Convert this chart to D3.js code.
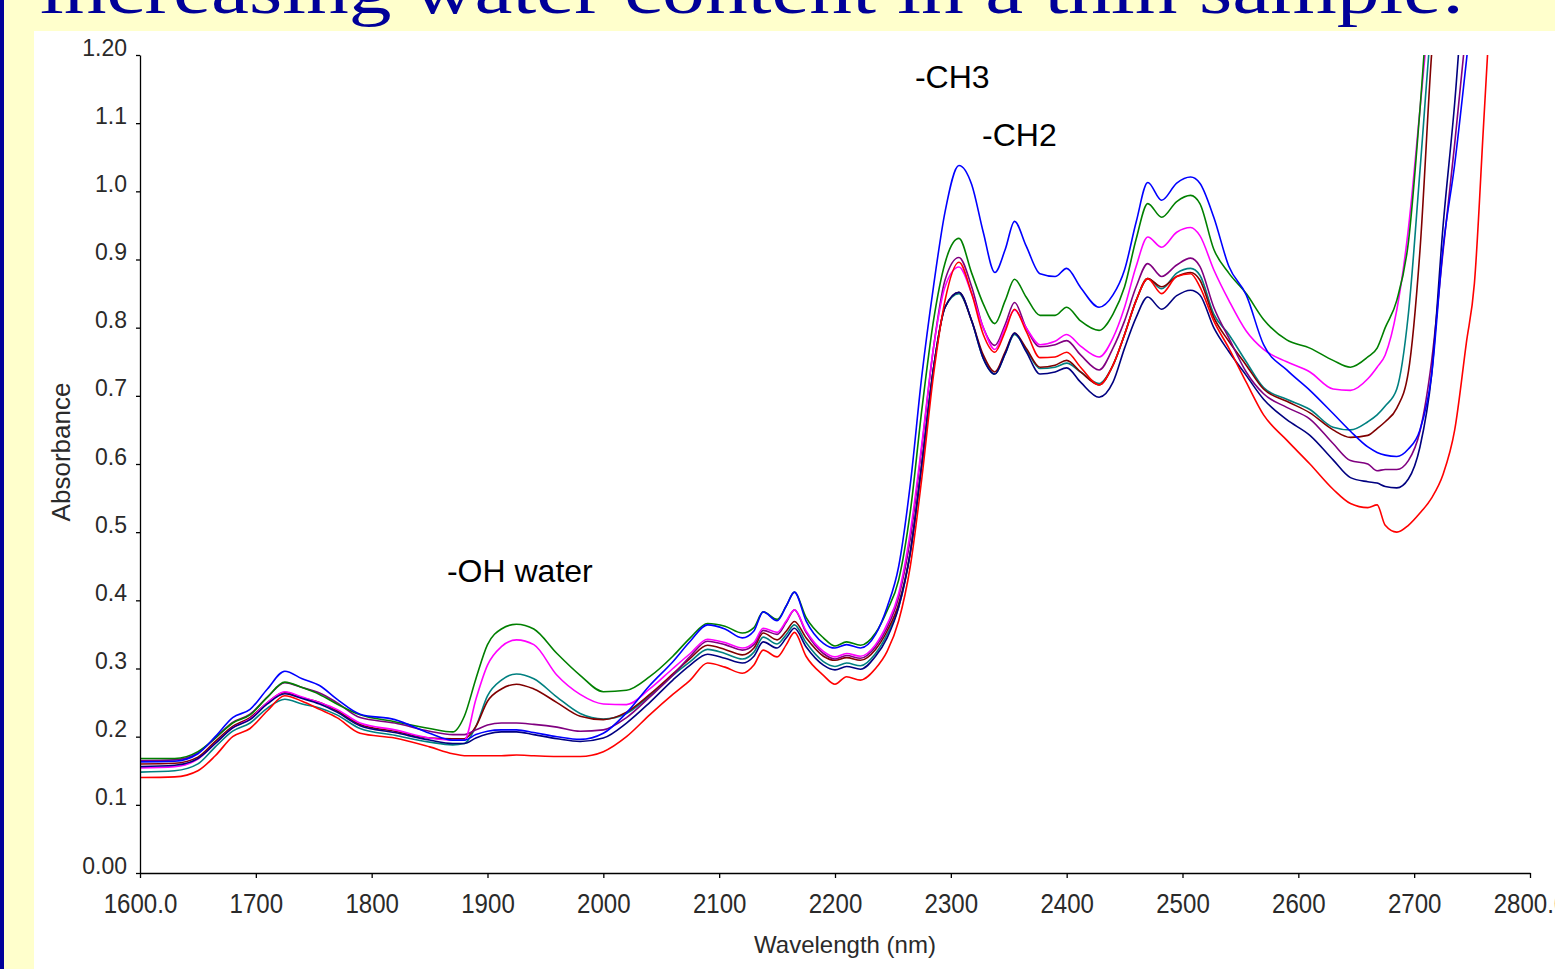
<!DOCTYPE html>
<html>
<head>
<meta charset="utf-8">
<title>NIR spectra</title>
<script src="https://d3js.org/d3.v7.min.js"></script>
<style>
body { margin: 0; background: #fff; }
svg text { font-family: "Liberation Sans", Arial, sans-serif; }
</style>
</head>
<body>
<svg id="chart" width="1555" height="969"></svg>
<script>
// wavelength grid (nm) shared by every spectrum
const wavelengths = [1600,1630,1650,1665,1680,1695,1710,1725,1740,1755,1770,1790,1820,1850,1870,
  1880,1890,1900,1912,1925,1940,1960,1980,2000,2020,2040,2060,2075,2090,
  2105,2120,2130,2138,2150,2158,2165,2175,2190,2200,2210,2222,2235,2245,2255,2265,2275,2285,2295,2307,
  2318,2328,2338,2347,2355,2365,2377,2390,2400,2412,
  2428,2440,2450,2460,2470,2482,2495,2507,2515,2527,
  2540,2555,2570,2590,2610,2630,2645,2660,2668,2675,
  2685,2695,2705,2715,2725,2735,2745,2752,2760,2770];

const blue = [0.163,0.164,0.175,0.200,0.228,0.240,0.270,0.296,0.285,0.275,0.255,0.233,0.225,0.205,0.195,
  0.195,0.203,0.208,0.210,0.210,0.206,0.200,0.196,0.205,0.235,0.275,0.310,0.340,0.364,
  0.358,0.345,0.355,0.383,0.370,0.392,0.412,0.370,0.337,0.330,0.335,0.330,0.350,0.390,0.450,0.570,0.730,0.860,0.970,1.038,
  1.010,0.940,0.881,0.915,0.956,0.920,0.879,0.875,0.887,0.859,
  0.830,0.848,0.885,0.955,1.013,0.987,1.012,1.021,1.012,0.962,
  0.890,0.848,0.775,0.738,0.708,0.674,0.648,0.625,0.617,0.613,
  0.611,0.622,0.650,0.730,0.918,1.040,1.190,1.300,1.400,1.500];

const green = [0.168,0.168,0.178,0.198,0.220,0.232,0.258,0.280,0.272,0.262,0.248,0.232,0.222,0.212,0.207,
  0.230,0.285,0.335,0.358,0.365,0.358,0.322,0.290,0.266,0.268,0.288,0.318,0.345,0.366,
  0.362,0.352,0.360,0.383,0.372,0.392,0.412,0.375,0.345,0.333,0.339,0.334,0.352,0.385,0.430,0.530,0.680,0.810,0.895,0.931,
  0.880,0.835,0.806,0.840,0.871,0.845,0.818,0.818,0.830,0.810,
  0.796,0.820,0.860,0.930,0.982,0.962,0.985,0.994,0.982,0.915,
  0.880,0.850,0.812,0.782,0.770,0.752,0.742,0.757,0.770,0.800,
  0.840,0.925,1.120,1.350,1.500,1.600,1.650,1.700,1.750,1.800];

const magenta = [0.154,0.156,0.167,0.190,0.213,0.226,0.250,0.266,0.258,0.250,0.240,0.220,0.210,0.198,0.195,
  0.195,0.255,0.305,0.332,0.342,0.335,0.290,0.262,0.248,0.247,0.270,0.300,0.322,0.343,
  0.338,0.330,0.338,0.359,0.353,0.370,0.386,0.355,0.325,0.317,0.322,0.318,0.335,0.365,0.410,0.500,0.630,0.770,0.860,0.889,
  0.850,0.800,0.768,0.800,0.826,0.800,0.775,0.780,0.790,0.773,
  0.757,0.785,0.830,0.890,0.933,0.918,0.940,0.947,0.935,0.885,
  0.840,0.795,0.768,0.750,0.735,0.710,0.708,0.725,0.742,0.760,
  0.826,0.945,1.120,1.300,1.450,1.550,1.600,1.650,1.700,1.750];

const teal = [0.148,0.150,0.160,0.185,0.208,0.220,0.242,0.255,0.248,0.242,0.232,0.212,0.202,0.192,0.188,
  0.190,0.215,0.260,0.283,0.292,0.285,0.258,0.234,0.226,0.234,0.260,0.290,0.310,0.328,
  0.322,0.314,0.324,0.346,0.336,0.350,0.364,0.338,0.310,0.303,0.308,0.304,0.322,0.350,0.390,0.470,0.600,0.740,0.830,0.850,
  0.810,0.755,0.732,0.762,0.790,0.768,0.740,0.742,0.748,0.735,
  0.718,0.745,0.790,0.840,0.872,0.857,0.880,0.887,0.877,0.820,
  0.790,0.750,0.712,0.695,0.680,0.654,0.650,0.662,0.672,0.685,
  0.710,0.820,1.030,1.250,1.400,1.500,1.550,1.600,1.650,1.700];

const brown = [0.160,0.161,0.170,0.193,0.215,0.228,0.250,0.265,0.257,0.250,0.238,0.218,0.208,0.198,0.197,
  0.197,0.215,0.252,0.270,0.277,0.270,0.250,0.230,0.225,0.236,0.262,0.292,0.315,0.334,
  0.328,0.320,0.330,0.352,0.342,0.355,0.369,0.345,0.318,0.312,0.316,0.312,0.328,0.355,0.395,0.470,0.600,0.740,0.830,0.852,
  0.810,0.760,0.735,0.765,0.792,0.770,0.742,0.745,0.752,0.735,
  0.716,0.745,0.790,0.840,0.872,0.860,0.875,0.881,0.870,0.815,
  0.780,0.745,0.710,0.692,0.675,0.650,0.639,0.642,0.652,0.662,
  0.682,0.735,0.913,1.200,1.400,1.500,1.550,1.600,1.650,1.700];

const purple = [0.165,0.166,0.176,0.198,0.221,0.233,0.258,0.279,0.272,0.264,0.250,0.228,0.220,0.208,0.203,
  0.203,0.210,0.217,0.220,0.220,0.218,0.214,0.208,0.210,0.228,0.258,0.290,0.318,0.340,
  0.335,0.327,0.335,0.356,0.350,0.368,0.386,0.353,0.322,0.314,0.319,0.315,0.332,0.360,0.405,0.490,0.625,0.770,0.870,0.903,
  0.860,0.800,0.774,0.805,0.837,0.800,0.772,0.775,0.781,0.760,
  0.738,0.770,0.810,0.860,0.894,0.875,0.892,0.902,0.890,0.830,
  0.785,0.735,0.703,0.683,0.666,0.630,0.605,0.600,0.590,0.592,
  0.592,0.605,0.648,0.750,0.913,1.070,1.240,1.350,1.450,1.550];

const navy = [0.156,0.158,0.168,0.190,0.213,0.225,0.248,0.263,0.256,0.248,0.236,0.216,0.206,0.195,0.190,
  0.190,0.198,0.204,0.207,0.207,0.203,0.197,0.193,0.198,0.220,0.250,0.283,0.305,0.321,
  0.315,0.308,0.318,0.339,0.330,0.345,0.359,0.332,0.305,0.298,0.303,0.299,0.318,0.345,0.390,0.470,0.600,0.740,0.830,0.852,
  0.810,0.755,0.732,0.762,0.792,0.765,0.732,0.735,0.741,0.720,
  0.698,0.720,0.770,0.815,0.845,0.827,0.847,0.855,0.848,0.800,
  0.765,0.730,0.695,0.665,0.642,0.606,0.580,0.574,0.572,0.567,
  0.565,0.578,0.625,0.730,0.950,1.130,1.350,1.450,1.550,1.650];

const red = [0.140,0.141,0.150,0.172,0.200,0.212,0.238,0.260,0.252,0.240,0.228,0.205,0.198,0.185,0.175,
  0.172,0.172,0.172,0.172,0.173,0.172,0.171,0.171,0.178,0.200,0.232,0.262,0.283,0.308,
  0.302,0.293,0.305,0.327,0.317,0.335,0.353,0.318,0.290,0.277,0.288,0.283,0.300,0.325,0.370,0.450,0.580,0.730,0.840,0.896,
  0.850,0.790,0.764,0.795,0.827,0.795,0.756,0.757,0.764,0.742,
  0.716,0.745,0.790,0.840,0.872,0.850,0.875,0.879,0.860,0.810,
  0.770,0.720,0.672,0.635,0.600,0.563,0.542,0.536,0.540,0.510,
  0.500,0.510,0.528,0.550,0.585,0.650,0.777,0.865,1.100,1.400];

const seriesList = [teal, brown, purple, magenta, navy, green, blue, red];
const seriesColors = ["#008080", "#800000", "#800080", "#ff00ff", "#000080", "#008000", "#0000ff", "#ff0000"];

const xTicks = [1600,1700,1800,1900,2000,2100,2200,2300,2400,2500,2600,2700,2800];
const xTickLabels = ["1600.0","1700","1800","1900","2000","2100","2200","2300","2400","2500","2600","2700","2800.0"];
const yTicks = [0,0.1,0.2,0.3,0.4,0.5,0.6,0.7,0.8,0.9,1.0,1.1,1.2];
const yTickLabels = ["0.00","0.1","0.2","0.3","0.4","0.5","0.6","0.7","0.8","0.9","1.0","1.1","1.20"];

const notes = [
  {text: "-CH3", w: 2269, v: 1.151},
  {text: "-CH2", w: 2327, v: 1.067},
  {text: "-OH water", w: 1865, v: 0.427}
];

const svg = d3.select("#chart");

// slide background: navy edge, pale yellow frame, white picture
svg.append("rect").attr("width", 1555).attr("height", 969).attr("fill", "#ffffcc");
svg.append("rect").attr("x", 0).attr("width", 4).attr("height", 969).attr("fill", "#000099");
svg.append("rect").attr("x", 34).attr("y", 31).attr("width", 1521).attr("height", 938).attr("fill", "#ffffff");

svg.append("text")
  .attr("x", 40).attr("y", 13)
  .attr("textLength", 1425).attr("lengthAdjust", "spacingAndGlyphs")
  .style("font-family", "'Liberation Serif', 'Times New Roman', serif")
  .style("font-size", "68px")
  .attr("fill", "#000099")
  .text("increasing water content in a thin sample:");

const x = d3.scaleLinear().domain([1600, 2800]).range([140, 1530]);
const y = d3.scaleLinear().domain([0, 1.2]).range([873, 55]);

svg.append("clipPath").attr("id", "plotclip")
  .append("rect").attr("x", 140).attr("y", 55).attr("width", 1390).attr("height", 818);

const line = d3.line()
  .x((d, i) => x(wavelengths[i]))
  .y(d => y(d))
  .curve(d3.curveMonotoneX);

const g = svg.append("g").attr("clip-path", "url(#plotclip)");
seriesList.forEach(function(s, k){
  g.append("path")
    .datum(s)
    .attr("fill", "none")
    .attr("stroke", seriesColors[k])
    .attr("stroke-width", 1.6)
    .attr("d", line);
});

// axes
const yAxis = svg.append("g")
  .attr("transform", "translate(140,0)")
  .call(d3.axisLeft(y).tickValues(yTicks).tickSize(4).tickSizeOuter(0)
    .tickFormat((d, i) => yTickLabels[i]));
yAxis.selectAll("text")
  .attr("x", -13).attr("dy", 0)
  .style("font-size", "23px").attr("fill", "#2a2a2a");

const xAxis = svg.append("g")
  .attr("transform", "translate(0,873)")
  .call(d3.axisBottom(x).tickValues(xTicks).tickSize(5).tickSizeOuter(0)
    .tickFormat((d, i) => xTickLabels[i]));
// the x labels in the picture are tall and narrow
xAxis.selectAll("text")
  .attr("y", 40).attr("dy", 0)
  .attr("transform", "scale(0.86,1)")
  .style("font-size", "28px").attr("fill", "#2a2a2a");

svg.selectAll(".domain, .tick line").attr("stroke", "#000").attr("stroke-width", 1.3);

svg.append("text")
  .attr("x", 845).attr("y", 953)
  .attr("text-anchor", "middle")
  .style("font-size", "24px").attr("fill", "#2a2a2a")
  .text("Wavelength (nm)");

svg.append("text")
  .attr("transform", "translate(70,452) rotate(-90)")
  .attr("text-anchor", "middle")
  .style("font-size", "26px").attr("fill", "#2a2a2a")
  .text("Absorbance");

svg.selectAll(".note")
  .data(notes).enter().append("text")
  .attr("class", "note")
  .attr("x", d => x(d.w)).attr("y", d => y(d.v))
  .style("font-size", "32px").attr("fill", "#000")
  .text(d => d.text);
</script>
</body>
</html>
